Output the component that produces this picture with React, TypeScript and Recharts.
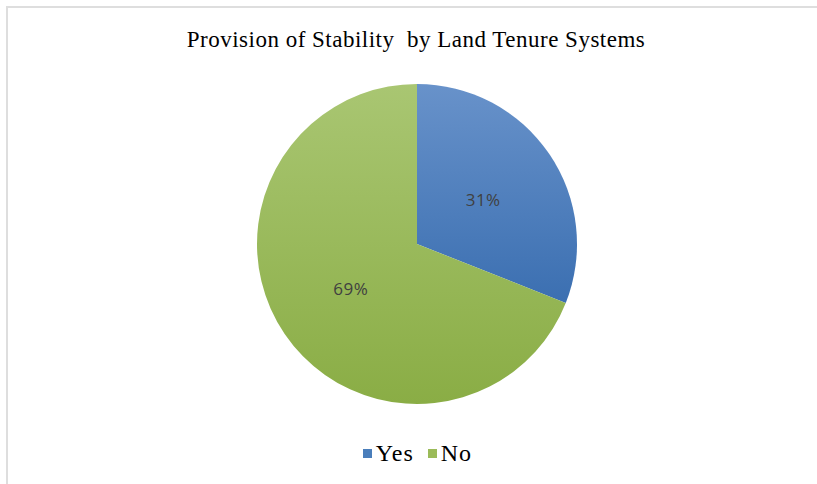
import React from 'react';
import { PieChart, Pie, Cell, Legend } from 'recharts';

const categories = ['Yes', 'No'];
const shares = [31, 69];
const title = 'Provision of Stability  by Land Tenure Systems';

const data = categories.map((name, i) => ({ name, value: shares[i] }));
const fills = ['url(#gradYes)', 'url(#gradNo)'];
const legendColors = ['#4a7ebb', '#9bbb59'];

const RAD = Math.PI / 180;

function renderLabel(props: any) {
  const { cx, cy, midAngle, outerRadius, value } = props;
  const r = outerRadius * 0.5;
  const x = cx + r * Math.cos(-midAngle * RAD);
  const y = cy + r * Math.sin(-midAngle * RAD);
  return (
    <text x={x} y={y} fill="#404040" fontFamily="'Open Sans', sans-serif" fontSize={17}
      textAnchor="middle" dominantBaseline="central" letterSpacing={0.5}>
      {value}%
    </text>
  );
}

function renderLegend() {
  return (
    <div style={{ display: 'flex', justifyContent: 'center', fontFamily: "'Liberation Serif', serif", fontSize: 24, letterSpacing: 1, color: '#000' }}>
      {categories.map((c, i) => (
        <span key={c} style={{ display: 'flex', alignItems: 'center', marginLeft: i ? 14 : 0 }}>
          <span style={{ width: 9, height: 9, background: legendColors[i], marginRight: 4, display: 'inline-block' }} />
          {c}
        </span>
      ))}
    </div>
  );
}

export default function App() {
  return (
    <div style={{ position: 'absolute', left: 0, top: 0, width: 817, height: 484, background: '#fff', overflow: 'hidden' }}>
      <div style={{ position: 'absolute', left: 6, top: 6, width: 820, height: 490, borderTop: '2px solid #dedede', borderLeft: '2px solid #dedede' }} />
      <div style={{ position: 'absolute', left: 0, top: 27, width: 832, textAlign: 'center', whiteSpace: 'pre', fontFamily: "'Liberation Serif', serif", fontSize: 23, letterSpacing: 0.5, color: '#000' }}>
        {title}
      </div>
      <div style={{ position: 'absolute', left: 0, top: 0 }}>
        <PieChart width={817} height={484}>
          <defs>
            <linearGradient id="gradYes" x1="0" y1="0" x2="0" y2="1">
              <stop offset="0%" stopColor="#6892ca" />
              <stop offset="100%" stopColor="#3b6fb1" />
            </linearGradient>
            <linearGradient id="gradNo" x1="0" y1="0" x2="0" y2="1">
              <stop offset="0%" stopColor="#a9c672" />
              <stop offset="100%" stopColor="#8aad45" />
            </linearGradient>
          </defs>
          <Pie
            data={data}
            dataKey="value"
            nameKey="name"
            cx={412}
            cy={239}
            outerRadius={160}
            startAngle={90}
            endAngle={-270}
            stroke="none"
            labelLine={false}
            label={renderLabel}
            isAnimationActive={false}
          >
            {data.map((d, i) => (
              <Cell key={d.name} fill={fills[i]} />
            ))}
          </Pie>
          <Legend verticalAlign="bottom" content={renderLegend} wrapperStyle={{ bottom: 17, left: 14 }} />
        </PieChart>
      </div>
    </div>
  );
}
